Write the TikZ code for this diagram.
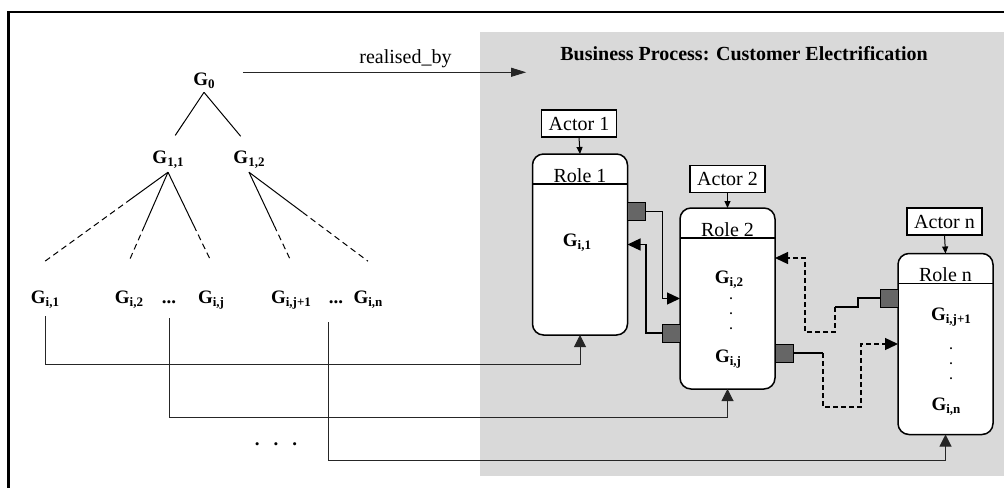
\documentclass[tikz,border=0pt]{standalone}
\usepackage{fontspec}
\setmainfont{Liberation Serif}
\usepackage{tikz}
\usetikzlibrary{positioning,arrows.meta,calc}

\newcommand{\gsub}[1]{\textbf{G}\raisebox{-3pt}{\fontsize{13}{14}\selectfont\bfseries #1}}

\begin{document}
\begin{tikzpicture}[x=1pt, y=-1pt, >=Stealth,
    every node/.style={font=\fontsize{20}{24}\selectfont, inner sep=2pt},
    goal/.style={font=\fontsize{19}{22}\selectfont\bfseries, inner sep=4pt, anchor=base},
    dotcol/.style={font=\fontsize{12}{15}\selectfont\bfseries, align=center, inner sep=0pt},
    actorbox/.style={draw, line width=1.5pt, fill=white, minimum width=75pt,
                     minimum height=27pt, inner sep=0pt, outer sep=0pt},
    rolebox/.style={draw, line width=1.5pt, fill=white, rounded corners=11pt,
                    minimum width=95pt, minimum height=181pt, outer sep=0pt},
    port/.style={draw, line width=1pt, fill=black!60, minimum size=18pt,
                 inner sep=0pt, outer sep=0pt},
    flow/.style={line width=1.3pt, -{Triangle[length=13pt,width=12pt]}},
    linkdash/.style={dash pattern=on 5pt off 3pt},
    feed/.style={line width=1pt, black!85, -{Triangle[length=12pt,width=12pt]}},
    realise/.style={line width=0.9pt, black!85, -{Triangle[length=15pt,width=9pt]}},
    branch/.style={line width=1pt}]
  \useasboundingbox (0,0) rectangle (1004,488);

  % process area and frame
  \fill[black!15] (480,32) rectangle (1004,476);
  \draw[line width=2pt] (8,12) -- (1004,12);
  \draw[line width=3pt] (8,11) -- (8,488);

  % goal tree
  \node[goal] (g0)   at (204,85)  {\gsub{0}};
  \node[goal] (g11)  at (168,163) {\gsub{1,1}};
  \node[goal] (g12)  at (249,163) {\gsub{1,2}};
  \node[goal] (gi1)  at (45,303)  {\gsub{i,1}};
  \node[goal] (gi2)  at (129,303) {\gsub{i,2}};
  \node[goal] (dots1) at (169,303) {...};
  \node[goal] (gij)  at (211,303) {\gsub{i,j}};
  \node[goal] (gij1) at (291,303) {\gsub{i,j+1}};
  \node[goal] (dots2) at (336,303) {...};
  \node[goal] (gin)  at (368,303) {\gsub{i,n}};

  \draw[branch, shorten >=13pt] (g0.south) -- (g11.north);
  \draw[branch, shorten >=13pt] (g0.south) -- (g12.north);
  \foreach \p/\c/\f in {g11/gi1/0.3, g11/gi2/0.6, g11/gij/0.6, g12/gij1/0.6, g12/gin/0.45}{
    \draw[branch] (\p.south) -- ($(\p.south)!\f!([yshift=25pt]\c.north)$);
    \draw[branch, dash pattern=on 6pt off 4pt] ($(\p.south)!\f!([yshift=25pt]\c.north)$) -- ([yshift=25pt]\c.north);
  }

  % business process
  \node[font=\fontsize{20}{24}\selectfont\bfseries, anchor=base] (bptitle) at (744,60)
      {Business Process: Customer Electrification};
  \coordinate (rbstart) at ([yshift=8pt]g0.east);
  \draw[realise, shorten <=24pt, shorten >=32pt] (rbstart) -- (rbstart -| bptitle.west)
      node[pos=0.55, anchor=base, yshift=9pt, black] {realised\_by};

  \node[actorbox] (actor1) at (579,123.5) {Actor 1};
  \node[actorbox] (actor2) at (727.5,179) {Actor 2};
  \node[actorbox] (actorn) at (944.5,221.5) {Actor n};

  \node[rolebox] (role1) at (580,244.5) {};
  \node[rolebox] (role2) at (727.5,298.5) {};
  \node[rolebox] (rolen) at (945.5,344) {};

  \foreach \r/\t in {role1/Role 1, role2/Role 2, rolen/Role n}{
    \draw[line width=1.2pt] ([yshift=-30pt]\r.north west) -- ([yshift=-30pt]\r.north east);
    \node[anchor=base] at ([yshift=-28pt]\r.north) {\t};
  }
  \foreach \a/\r in {actor1/role1, actor2/role2, actorn/rolen}
    \draw[line width=1pt, -{Triangle[length=7pt,width=6pt]}] (\a.south) -- (\r.north);

  \node[goal] (r1g) at (577,246) {\gsub{i,1}};
  \node[goal] (r2g) at (729,283) {\gsub{i,2}};
  \node[goal] (r2j) at (728,362) {\gsub{i,j}};
  \node[goal] (rng) at (951,320) {\gsub{i,j+1}};
  \node[goal] (rnn) at (946,410) {\gsub{i,n}};
  \node[dotcol] (r2dots) at (731,314) {.\\.\\.};
  \node[dotcol] (rndots) at (951,364) {.\\.\\.};

  % ports and their links
  \node[port, anchor=west] (p1) at ([yshift=33pt]role1.east) {};
  \node[port, anchor=east] (p2) at ([yshift=-34.5pt]role2.west) {};
  \node[port, anchor=west] (p3) at ([yshift=-54.5pt]role2.east) {};
  \node[port, anchor=east] (p4) at ([yshift=46pt]rolen.west) {};

  \draw[flow] (p1.east) -- ++(17,0) |- (role2.west);
  \draw[flow] (p2.west) -- ++(-16,0) |- (role1.east);
  \draw[line width=1.3pt] (p4.west) -- ++(-22,0) -- ++(0,9) -- ++(-23,0) coordinate (d1);
  \draw[flow, linkdash] (d1) -- ++(0,25) -- ++(-30,0) |- ([yshift=40.5pt]role2.east);
  \draw[line width=1.3pt] (p3.east) -- ++(30,0) coordinate (d2);
  \draw[flow, linkdash] (d2) -- ++(0,54) -- ++(38,0) |- (rolen.west);

  % goals fed to the roles
  \coordinate (bus1) at (0,364);
  \coordinate (bus2) at (0,417);
  \coordinate (bus3) at (0,460);
  \coordinate (tap3) at ([xshift=-8pt]dots2.south);
  \draw[feed, shorten <=4pt] (gi1.south) -- (gi1.south |- bus1) -| (role1.south);
  \draw[feed, shorten <=11pt] (dots1.south) -- (dots1.south |- bus2) -| (role2.south);
  \draw[feed, shorten <=15pt] (tap3) -- (tap3 |- bus3) -| (rolen.south);

  \node[goal] (more) at (276,445) {.\hspace{14pt}.\hspace{14pt}.};
\end{tikzpicture}
\end{document}
